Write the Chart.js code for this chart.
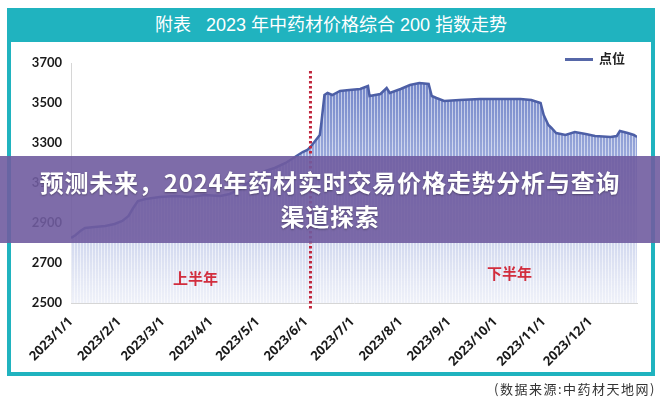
<!DOCTYPE html>
<html lang="zh-CN">
<head>
<meta charset="utf-8">
<title>2023 年中药材价格综合 200 指数走势</title>
<script src="https://cdn.jsdelivr.net/npm/chart.js@4.4.1/dist/chart.umd.min.js"></script>
<style>
  html, body { margin: 0; padding: 0; background: #fff; }
  body { width: 660px; height: 400px; position: relative; overflow: hidden; font-family: 'Noto Sans CJK SC', sans-serif; }
  #frame { position: absolute; left: 7px; top: 8px; width: 640px; height: 360px; border: 4px solid #20b3bf; }
  #header { position: absolute; left: 7px; top: 8px; width: 648px; height: 34px; background: #20b3bf;
            color: #fff; font: 18px 'Liberation Sans', 'Noto Sans CJK SC', sans-serif; line-height: 34px; text-align: center; }
  #chart { position: absolute; left: 0; top: 0; }
  #legend { position: absolute; left: 565px; top: 48px; font: bold 13px 'Noto Sans CJK SC', sans-serif; color: #222; }
  #legend span.swatch { display: inline-block; width: 28px; height: 3px; background: #5667a8; vertical-align: middle; margin-right: 6px; }
  #source { position: absolute; right: 4px; top: 379px; font: 13px 'Noto Sans CJK SC', sans-serif; color: #333; letter-spacing: 1.5px; }
  #banner { position: absolute; left: 0; top: 156px; width: 660px; height: 87px; background: rgba(112, 92, 160, 0.9);
            color: #fff; font: bold 24px 'Noto Sans CJK SC', sans-serif; letter-spacing: 0.8px; text-align: center; line-height: 34px;
            padding-top: 9px; box-sizing: border-box; text-shadow: 0 1px 2px rgba(0,0,0,0.35); }
</style>
</head>
<body>
<div id="frame"></div>
<div id="header">附表&nbsp;&nbsp;&nbsp;2023 年中药材价格综合 200 指数走势</div>
<canvas id="chart" width="660" height="400"></canvas>
<div id="legend"><span class="swatch"></span>点位</div>
<div id="source">(数据来源:中药材天地网)</div>
<div id="banner">预测未来，2024年药材实时交易价格走势分析与查询<br>渠道探索</div>

<script>
// Tick labels (month starts, as day of year)
const monthDays = [0, 31, 59, 90, 120, 151, 181, 212, 243, 273, 304, 334];
const monthLabels = ['2023/1/1', '2023/2/1', '2023/3/1', '2023/4/1', '2023/5/1', '2023/6/1',
                     '2023/7/1', '2023/8/1', '2023/9/1', '2023/10/1', '2023/11/1', '2023/12/1'];

// Index readings (day of year -> points)
const indexDays = [0, 3, 6, 9, 15, 22, 28, 33, 37, 40, 43, 48, 57, 67, 77, 86, 96, 102, 109, 115,
                   120, 125, 131, 138, 144, 149, 152, 155, 158, 160, 161, 163, 165, 168, 173, 179, 186, 191, 192, 199,
                   203, 205, 212, 218, 224, 230, 232, 235, 240, 250, 263, 276, 289, 296, 302, 304, 307, 309, 312, 318,
                   324, 331, 337, 347, 351, 353, 358, 362, 364];
const indexValues = [2825, 2840, 2860, 2875, 2880, 2885, 2895, 2910, 2935, 2975, 3010, 3020, 3030, 3035, 3030, 3040, 3035, 3045, 3070, 3110,
                     3140, 3160, 3175, 3200, 3230, 3255, 3265, 3290, 3320, 3340, 3400, 3540, 3550, 3540, 3560, 3565, 3570, 3585, 3535, 3545,
                     3575, 3550, 3570, 3590, 3600, 3595, 3535, 3525, 3510, 3515, 3520, 3520, 3520, 3515, 3500, 3440, 3390, 3375, 3350, 3340,
                     3355, 3345, 3335, 3330, 3335, 3360, 3350, 3340, 3330];

// Y axis range
const yMin = 2500;
const yMax = 3700;
const yStep = 200;

// Half-year divider and notes
const dividerDay = 154;
const halfNotes = [
    { text: '上半年', day: 80, value: 2625 },
    { text: '下半年', day: 282, value: 2650 }
];

// Striped fill under the line, fading toward the bottom
let stripePattern = null;
function stripeFill(context) {
    const chart = context.chart;
    const area = chart.chartArea;
    if (!area) return 'rgba(140,158,212,0.6)';
    if (stripePattern) return stripePattern;
    const c = document.createElement('canvas');
    c.width = 3;
    c.height = chart.height;
    const g = c.getContext('2d');
    const grad = g.createLinearGradient(0, area.top, 0, area.bottom);
    grad.addColorStop(0, 'rgba(105,125,196,1)');
    grad.addColorStop(0.4, 'rgba(146,162,216,0.92)');
    grad.addColorStop(1, 'rgba(228,232,245,0.6)');
    g.fillStyle = grad;
    g.fillRect(0, 0, 3, c.height);
    g.fillStyle = 'rgba(255,255,255,0.55)';
    g.fillRect(2, 0, 1, c.height);
    stripePattern = chart.ctx.createPattern(c, 'repeat');
    return stripePattern;
}

// Red dotted divider + half-year notes
const dividerPlugin = {
    id: 'divider',
    afterDatasetsDraw(chart) {
        const { ctx, chartArea, scales } = chart;
        const x = scales.x.getPixelForValue(dividerDay);
        ctx.save();
        ctx.strokeStyle = '#c0263d';
        ctx.lineWidth = 3;
        ctx.setLineDash([2.5, 2.5]);
        ctx.beginPath();
        ctx.moveTo(x, chartArea.top + 8);
        ctx.lineTo(x, chartArea.bottom + 7);
        ctx.stroke();
        ctx.setLineDash([]);

        ctx.font = 'bold 15px "Noto Sans CJK SC", sans-serif';
        ctx.fillStyle = '#d22d3d';
        ctx.textAlign = 'center';
        ctx.textBaseline = 'middle';
        halfNotes.forEach(n => {
            ctx.fillText(n.text, scales.x.getPixelForValue(n.day), scales.y.getPixelForValue(n.value));
        });
        ctx.restore();
    }
};

const ctx = document.getElementById('chart').getContext('2d');
new Chart(ctx, {
    type: 'line',
    data: {
        datasets: [{
            label: '点位',
            data: indexDays.map((d, i) => ({ x: d, y: indexValues[i] })),
            borderColor: '#4d5fa6',
            borderWidth: 2.5,
            pointRadius: 0,
            tension: 0,
            fill: 'start',
            backgroundColor: stripeFill
        }]
    },
    options: {
        responsive: false,
        animation: false,
        layout: {
            padding: { left: 8, top: 63, right: 23, bottom: 0 }
        },
        plugins: {
            legend: { display: false },
            tooltip: { enabled: false }
        },
        scales: {
            x: {
                type: 'linear',
                min: 0,
                max: 364,
                afterBuildTicks: (scale) => {
                    scale.ticks = monthDays.map(v => ({ value: v }));
                },
                afterFit: (scale) => {
                    scale.height = 97;
                },
                grid: { color: 'transparent', drawTicks: false },
                border: { display: true, color: '#d6d6d6', width: 1 },
                ticks: {
                    autoSkip: false,
                    maxRotation: 45,
                    minRotation: 45,
                    padding: 11,
                    color: '#1a1a1a',
                    font: { family: 'Open Sans', size: 13, weight: 'bold' },
                    callback: (value, index) => monthLabels[index]
                }
            },
            y: {
                min: yMin,
                max: yMax,
                afterFit: (scale) => {
                    scale.width = 63;
                },
                grid: { color: 'transparent', drawTicks: false },
                border: { display: true, color: '#d6d6d6', width: 1 },
                ticks: {
                    stepSize: yStep,
                    padding: 9,
                    color: '#1a1a1a',
                    font: { family: 'Lato', size: 13, weight: 'bold' },
                    callback: (value) => String(value)
                }
            }
        }
    },
    plugins: [dividerPlugin]
});
</script>
</body>
</html>
